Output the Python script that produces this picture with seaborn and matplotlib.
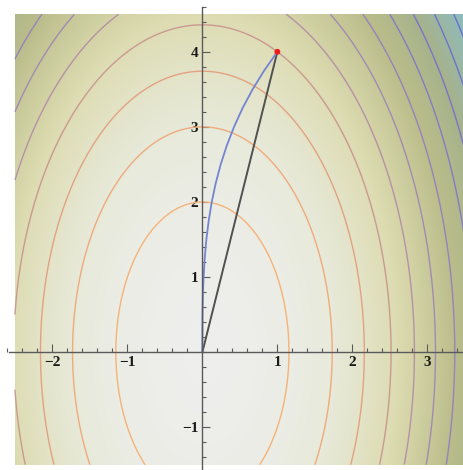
import numpy as np
import matplotlib
matplotlib.use('Agg')
import matplotlib.pyplot as plt
from matplotlib.colors import LinearSegmentedColormap
from matplotlib.ticker import MultipleLocator, FixedLocator
import seaborn as sns

# field f = A*x^2 + B*y^2 on the shaded region
coef_x = 3.0
coef_y = 1.0
x_range = [-2.5, 3.5]
y_range = [-1.5, 4.5]
levels = [4, 9, 14, 19, 24, 29, 34, 39, 44, 49, 54]
level_colors = ['#f5b27a', '#f0aa7c', '#e2a282', '#ca9a90', '#b692a4', '#a48ab2',
                '#9484bc', '#857cc4', '#7876c8', '#6e74ca', '#6672cc']

# descent path
path_x = [0.0, 0.0002, 0.002, 0.0066, 0.016, 0.031, 0.053, 0.084, 0.125,
          0.178, 0.244, 0.325, 0.422, 0.536, 0.670, 0.824, 1.0]
path_y = [0.0, 0.25, 0.5, 0.75, 1.0, 1.25, 1.5, 1.75, 2.0,
          2.25, 2.5, 2.75, 3.0, 3.25, 3.5, 3.75, 4.0]
# straight segment and start point
line_x = [0.0, 1.0]
line_y = [0.0, 4.0]
start_x = [1.0]
start_y = [4.0]

x_major = [-2, -1, 1, 2, 3]
y_major = [-1, 1, 2, 3, 4]

sns.set_theme(style='white')
plt.rcParams['font.family'] = ['Liberation Serif', 'DejaVu Serif']

bg_cmap = LinearSegmentedColormap.from_list('bg', [
    (0.0, '#eeeeec'),
    (0.15, '#e8eadb'),
    (0.35, '#dddcb2'),
    (0.6, '#babd8a'),
    (0.78, '#a6b28c'),
    (1.0, '#8cbcc2'),
])

xs = np.linspace(x_range[0], x_range[1], 400)
ys = np.linspace(y_range[0], y_range[1], 400)
X, Y = np.meshgrid(xs, ys)
F = coef_x * X**2 + coef_y * Y**2

fig = plt.figure(figsize=(4.64, 4.70), dpi=100)
ax = fig.add_axes([0, 0, 1, 1])
ax.set_facecolor('white')

ax.imshow(F, extent=[x_range[0], x_range[1], y_range[0], y_range[1]],
          origin='lower', cmap=bg_cmap, vmin=0, vmax=57, aspect='auto',
          interpolation='bilinear', zorder=0)
ax.contour(X, Y, F, levels=levels, colors=level_colors, linewidths=1.0, zorder=1)

sns.lineplot(x=line_x, y=line_y, ax=ax, color='#505050', lw=1.4,
             sort=False, estimator=None, zorder=3)
sns.lineplot(x=path_x, y=path_y, ax=ax, color='#7484d2', lw=1.3,
             sort=False, estimator=None, zorder=3)
sns.scatterplot(x=start_x, y=start_y, ax=ax, color='#ee1c1c', s=18,
                edgecolor='none', zorder=4)

ax.set_xlim(-2.70, 3.49)
ax.set_ylim(-1.57, 4.69)

for side in ['top', 'right']:
    ax.spines[side].set_visible(False)
ax.spines['left'].set_position(('data', 0))
ax.spines['bottom'].set_position(('data', 0))
ax.spines['left'].set_bounds(-1.57, 4.6)
ax.spines['bottom'].set_bounds(-2.58, 3.49)
for side in ['left', 'bottom']:
    ax.spines[side].set_color('#5a5a5a')
    ax.spines[side].set_linewidth(1.0)
    ax.spines[side].set_zorder(5)

ax.xaxis.set_major_locator(FixedLocator(x_major))
ax.yaxis.set_major_locator(FixedLocator(y_major))
ax.xaxis.set_minor_locator(MultipleLocator(0.2))
ax.yaxis.set_minor_locator(MultipleLocator(0.2))
ax.set_xticklabels(['\u2212' + str(-v) if v < 0 else str(v) for v in x_major])
ax.set_yticklabels(['\u2212' + str(-v) if v < 0 else str(v) for v in y_major])
ax.tick_params(which='both', direction='in', color='#5a5a5a', width=0.8,
               bottom=True, left=True, top=False, right=False)
ax.tick_params(which='major', length=5.5, labelsize=11, pad=3)
ax.tick_params(which='minor', length=3)
for lab in ax.get_xticklabels() + ax.get_yticklabels():
    lab.set_fontweight('bold')
    lab.set_color('#1a1a1a')
ax.set_xlabel('')
ax.set_ylabel('')
if ax.get_legend():
    ax.get_legend().remove()

fig.savefig('out.png', dpi=100)
